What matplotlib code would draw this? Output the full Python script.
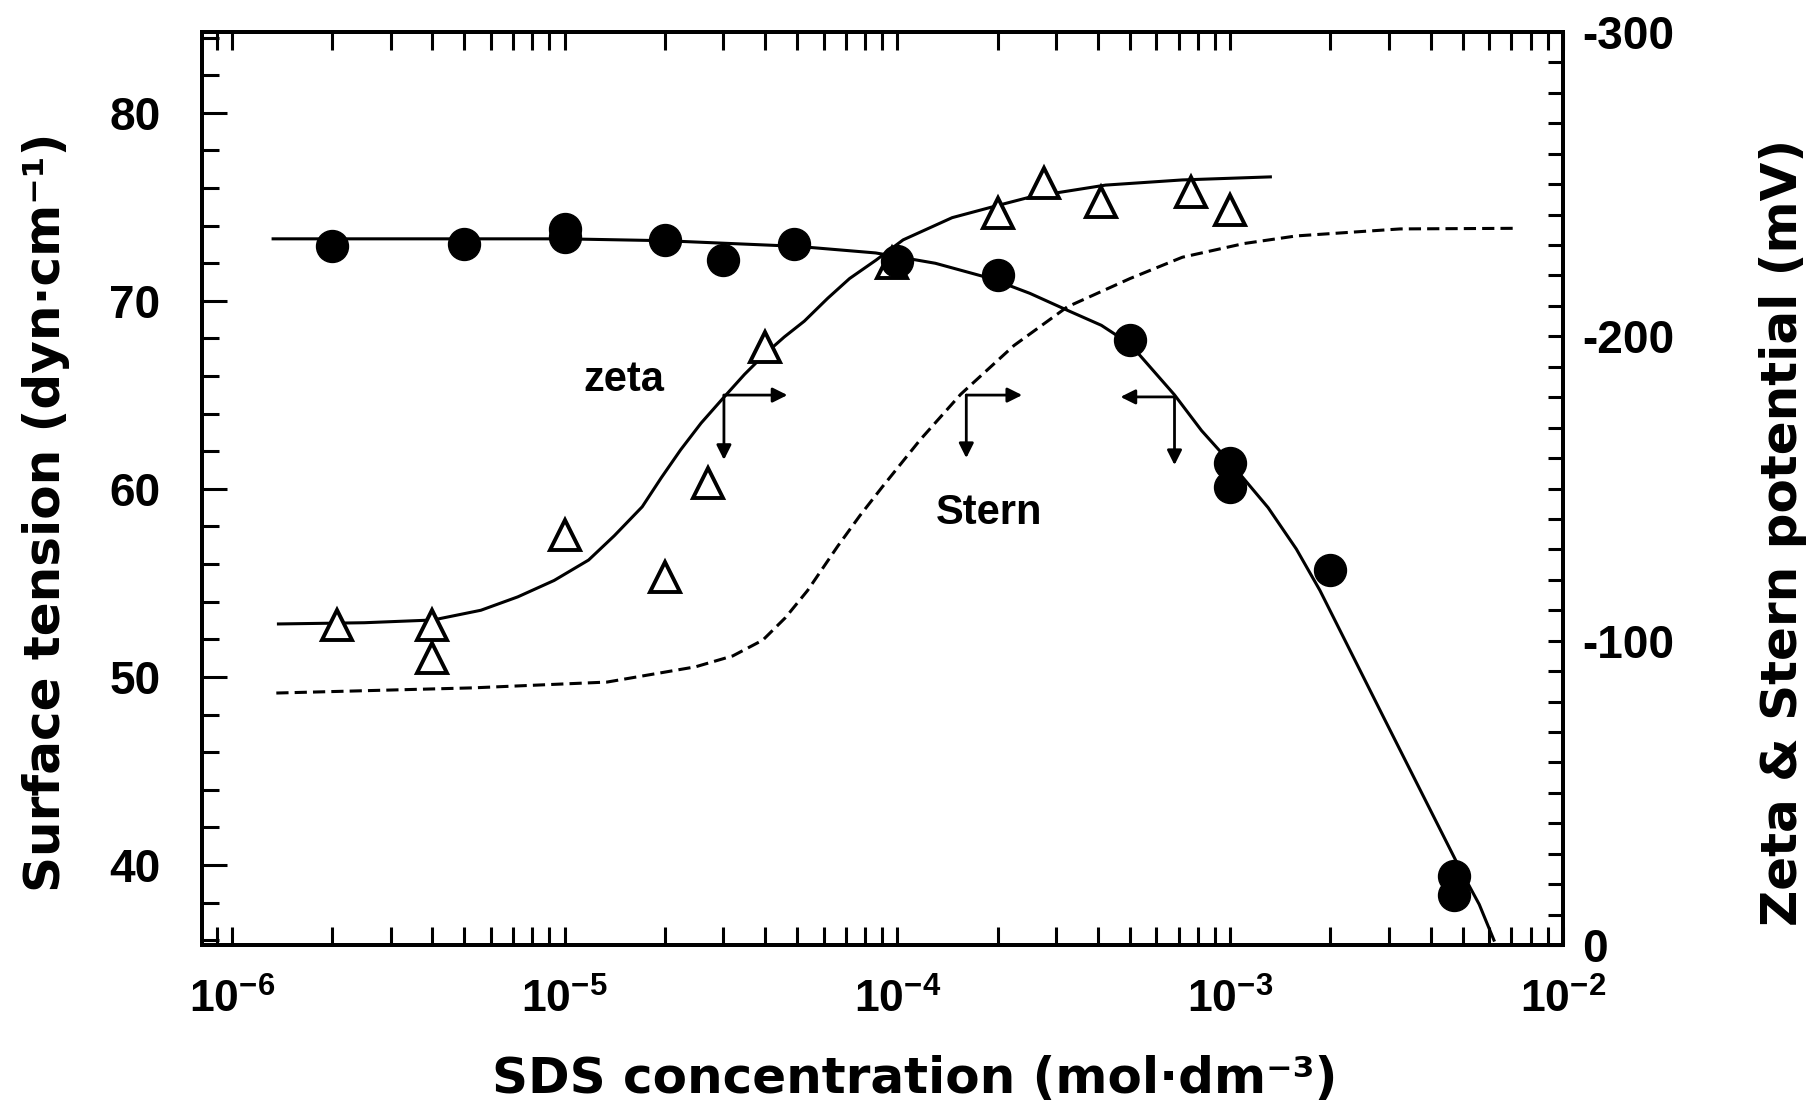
import matplotlib
matplotlib.use("Agg")
import matplotlib.pyplot as plt
from matplotlib.ticker import MultipleLocator, LogLocator, NullFormatter, FixedLocator

plt.rcParams['font.family'] = ['Liberation Sans', 'DejaVu Sans']
plt.rcParams['font.weight'] = 'bold'
plt.rcParams['mathtext.fontset'] = 'custom'
plt.rcParams['mathtext.rm'] = 'Liberation Sans:bold'
plt.rcParams['mathtext.it'] = 'Liberation Sans:bold'
plt.rcParams['mathtext.bf'] = 'Liberation Sans:bold'
plt.rcParams['axes.unicode_minus'] = False

# surface tension measurements (filled circles, left axis)
st_conc = [2.0e-6, 5.0e-6, 1.0e-5, 1.0e-5, 2.0e-5, 3.0e-5, 4.9e-5, 1.0e-4,
           2.0e-4, 5.0e-4, 1.0e-3, 1.0e-3, 2.0e-3, 4.7e-3, 4.7e-3]
st_val = [72.9, 73.0, 73.8, 73.4, 73.25, 72.2, 73.0, 72.1,
          71.4, 67.9, 61.4, 60.1, 55.7, 39.4, 38.4]

# surface tension fitted curve
st_fit_conc = [1.33e-6, 1.0e-5, 2.0e-5, 5.0e-5, 8.6e-5, 1.3e-4, 1.9e-4, 2.5e-4, 3.24e-4,
               4.1e-4, 5.0e-4, 6.8e-4, 8.2e-4, 1.0e-3, 1.3e-3, 1.58e-3, 1.86e-3,
               2.88e-3, 4.9e-3, 5.6e-3, 6.2e-3]
st_fit_val = [73.3, 73.3, 73.2, 72.9, 72.55, 72.0, 71.2, 70.4, 69.5,
              68.7, 67.7, 65.0, 63.1, 61.4, 59.0, 56.8, 54.6,
              47.9, 39.8, 37.9, 36.0]

# zeta potential measurements (open triangles, right axis)
zeta_conc = [2.07e-6, 4.0e-6, 4.0e-6, 1.0e-5, 2.0e-5, 2.7e-5, 4.0e-5, 9.6e-5,
             2.0e-4, 2.76e-4, 4.1e-4, 7.6e-4, 1.0e-3]
zeta_mv = [-105, -105, -94.3, -134.7, -121, -151.8, -196.5, -224.0,
           -240.5, -250.4, -244.2, -247.5, -241.5]

# zeta fitted curve
zeta_fit_conc = [1.38e-6, 2.5e-6, 4.02e-6, 5.6e-6, 7.23e-6, 9.3e-6, 1.18e-5, 1.41e-5, 1.71e-5,
                 1.95e-5, 2.23e-5, 2.57e-5, 3.01e-5, 3.47e-5, 3.98e-5, 4.57e-5, 5.25e-5,
                 6.17e-5, 7.18e-5, 8.61e-5, 1.04e-4, 1.46e-4, 2.0e-4, 2.51e-4, 4.22e-4,
                 7.18e-4, 1.32e-3]
zeta_fit_mv = [-105.5, -105.9, -106.8, -110.0, -114.4, -119.8, -126.5, -134.5, -144,
               -153.5, -162.7, -171.5, -180, -187.5, -194, -199.8, -205,
               -212.5, -219, -225, -231.7, -239, -243.0, -245.8, -249.7,
               -251.4, -252.4]

# Stern potential curve (dashed)
stern_conc = [1.36e-6, 5.3e-6, 1.34e-5, 2.47e-5, 3.2e-5, 3.94e-5, 4.6e-5, 5.37e-5, 6.61e-5,
              7.7e-5, 9.0e-5, 1.17e-4, 1.55e-4, 2.24e-4, 3.24e-4, 5.0e-4, 7.18e-4,
              1.1e-3, 1.58e-3, 3.24e-3, 7.24e-3]
stern_mv = [-82.8, -84.5, -86.4, -91.4, -95.0, -100.2, -107.5, -116.5, -131,
            -141.0, -150.5, -166, -181, -197, -209.7, -219, -226,
            -230.5, -233, -235.3, -235.5]

# axis pointer arrows: corner, horizontal end, vertical end (right-axis units)
arrow_corner_x = [3.01e-5, 1.61e-4, 6.8e-4]
arrow_corner_y = [-180.7, -180.7, -180.1]
arrow_h_end = [4.67e-5, 2.37e-4, 4.68e-4]
arrow_v_end = [-159.4, -160.0, -157.7]

fs = 30
lab_fs = 36
lab_font = ['DejaVu Sans']

fig = plt.figure(figsize=(18.16, 11.04), dpi=100)
ax = fig.add_axes([0.1112, 0.144, 0.7495, 0.827])
ax2 = ax.twinx()

# left axis: surface tension
ax.plot(st_fit_conc, st_fit_val, color='black', lw=2.2, zorder=2)
ax.plot(st_conc, st_val, 'o', color='black', ms=23, zorder=3)
ax.set_xscale('log')
ax.set_xlim(10**-6.09, 1e-2)
ax.set_ylim(35.74, 84.3)

# right axis: zeta and Stern
ax2.plot(zeta_fit_conc, zeta_fit_mv, color='black', lw=2.2)
ax2.plot(stern_conc, stern_mv, color='black', lw=2.2, linestyle=(0, (4, 2)))
ax2.plot(zeta_conc, zeta_mv, '^', mfc='white', mec='black', mew=2.8, ms=21)
ax2.set_ylim(0, -300)

for cx, cy, hx, vy in zip(arrow_corner_x, arrow_corner_y, arrow_h_end, arrow_v_end):
    ap = dict(arrowstyle='-|>', lw=2, color='black', mutation_scale=22, shrinkA=0, shrinkB=0)
    ax2.annotate('', xy=(hx, cy), xytext=(cx, cy), arrowprops=ap)
    ax2.annotate('', xy=(cx, vy), xytext=(cx, cy), arrowprops=ap)

ax2.text(1.51e-5, -185.7, 'zeta', fontsize=fs, ha='center', va='center')
ax2.text(1.89e-4, -142, 'Stern', fontsize=fs, ha='center', va='center')

# put circles/surface tension above the twin axes
ax.set_zorder(ax2.get_zorder() + 1)
ax.patch.set_visible(False)

# ticks
ax.xaxis.set_major_locator(LogLocator(base=10, numticks=10))
ax.xaxis.set_minor_locator(LogLocator(base=10, subs=range(2, 10), numticks=20))
ax.xaxis.set_minor_formatter(NullFormatter())
ax.yaxis.set_major_locator(FixedLocator([40, 50, 60, 70, 80]))
ax.yaxis.set_minor_locator(MultipleLocator(2))
ax2.yaxis.set_major_locator(FixedLocator([0, -100, -200, -300]))
ax2.yaxis.set_minor_locator(MultipleLocator(10))

ax.tick_params(axis='x', which='both', direction='in', top=True, bottom=True,
               length=13, width=2.2, labelsize=32, pad=24)
ax.tick_params(axis='y', which='major', direction='in', left=True, right=False,
               length=18, width=2.2, labelsize=33, pad=30)
ax.tick_params(axis='y', which='minor', direction='in', left=True, right=False,
               length=12, width=2.2)
ax2.tick_params(axis='y', which='both', direction='in', length=11, width=2.2,
                labelsize=33, pad=14)

for a in (ax, ax2):
    for s in a.spines.values():
        s.set_linewidth(2.8)

ax.text(-0.1146, 0.474, 'Surface tension (dyn\u00b7cm\u207b\u00b9)', transform=ax.transAxes,
        rotation=90, ha='center', va='center', fontsize=lab_fs, family=lab_font)
ax.text(1.1617, 0.452, 'Zeta & Stern potential (mV)', transform=ax.transAxes,
        rotation=90, ha='center', va='center', fontsize=lab_fs, family=lab_font)
ax.text(0.5235, -0.1468, 'SDS concentration (mol\u00b7dm\u207b\u00b3)', transform=ax.transAxes,
        ha='center', va='center', fontsize=lab_fs, family=lab_font)

fig.savefig('out.png', dpi=100)
